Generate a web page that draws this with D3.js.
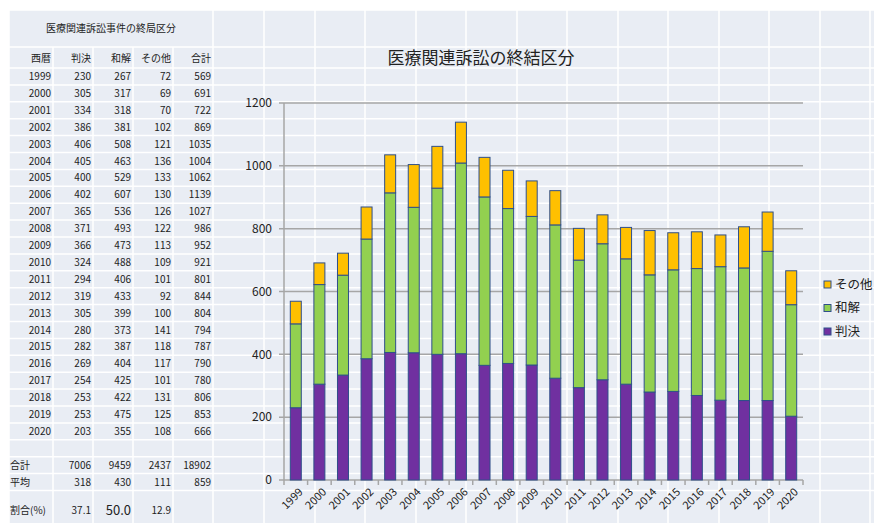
<!DOCTYPE html>
<html>
<head>
<meta charset="utf-8">
<script src="https://cdn.jsdelivr.net/npm/d3@7"></script>
<style>
  body { margin: 0; background: #fff; }
  text { font-family: "Noto Sans CJK JP", "Noto Sans", sans-serif; }
</style>
</head>
<body>
<div id="sheet"></div>
<script>
// data read from the sheet
const years = ["1999","2000","2001","2002","2003","2004","2005","2006","2007","2008","2009",
               "2010","2011","2012","2013","2014","2015","2016","2017","2018","2019","2020"];
const hanketsu = [230,305,334,386,406,405,400,402,365,371,366,324,294,319,305,280,282,269,254,253,253,203];
const wakai    = [267,317,318,381,508,463,529,607,536,493,473,488,406,433,399,373,387,404,425,422,475,355];
const sonota   = [72,69,70,102,121,136,133,130,126,122,113,109,101,92,100,141,118,117,101,131,125,108];
const seriesNames = ["判決", "和解", "その他"];
const headers = ["西暦", "判決", "和解", "その他", "合計"];
const totalRow = ["合計", "7006", "9459", "2437", "18902"];
const avgRow = ["平均", "318", "430", "111", "859"];
const ratioRow = ["割合(%)", "37.1", "50.0", "12.9", ""];
const yTicks = [0, 200, 400, 600, 800, 1000, 1200];

const W = 874, H = 523;
const colors = { "判決": "#7030a0", "和解": "#92d050", "その他": "#ffc000" };

let svg = d3.select("#sheet").append("svg")
    .attr("width", W).attr("height", H);

// spreadsheet background
svg.append("rect").attr("x", 9).attr("y", 10).attr("width", W - 9).attr("height", H - 10)
    .attr("fill", "#e9edf4");

const colX = [9, 53, 93, 133, 173, 213, 264, 315, 365, 416, 466, 517, 567, 618, 668, 719, 769, 820, 870];
const rowY = [10, 47, 68];
for (let i = 1; i <= 25; i++) rowY.push(68 + i * 16.9);

// horizontal cell borders
svg.append("g").selectAll("line").data(rowY).enter().append("line")
    .attr("x1", 9).attr("x2", W).attr("y1", d => d).attr("y2", d => d)
    .attr("stroke", "#fff").attr("stroke-width", 1.5);
// vertical cell borders (title cell is merged over first five columns)
svg.append("g").selectAll("line").data(colX).enter().append("line")
    .attr("x1", d => d).attr("x2", d => d)
    .attr("y1", d => d < 213 && d > 9 ? 47 : 10).attr("y2", H)
    .attr("stroke", "#fff").attr("stroke-width", 1.5);

// ---- table ----
let table = svg.append("g").attr("fill", "#222").style("font-size", "10px");
table.append("text").attr("x", 111).attr("y", 32).attr("text-anchor", "middle")
    .text("医療関連訴訟事件の終局区分");

const rightEdge = [51, 91, 131, 171, 211];
function writeRow(vals, cy, firstLeft) {
    vals.forEach(function(v, i) {
        table.append("text")
            .attr("x", (i === 0 && firstLeft) ? 10 : rightEdge[i])
            .attr("y", cy).attr("dy", "0.35em")
            .attr("text-anchor", (i === 0 && firstLeft) ? "start" : "end")
            .text(v);
    });
}
writeRow(headers, 58, false);
years.forEach(function(y, i) {
    let tot = hanketsu[i] + wakai[i] + sonota[i];
    writeRow([y, hanketsu[i], wakai[i], sonota[i], tot], 68 + i * 16.9 + 8.5, false);
});
writeRow(totalRow, 465, true);
writeRow(avgRow, 482, true);
writeRow(ratioRow, 510, true);
// the middle ratio is printed larger in the sheet
table.selectAll("text").filter(function() { return d3.select(this).text() === "50.0"; })
    .style("font-size", "13px");

// ---- chart ----
const x = d3.scaleBand().domain(years).range([284, 803]).paddingInner(0.534).paddingOuter(0.267);
const y = d3.scaleLinear().domain([0, 1200]).range([480, 103]);

let data = years.map((yr, i) => ({ year: yr, "判決": hanketsu[i], "和解": wakai[i], "その他": sonota[i] }));
let stacked = d3.stack().keys(seriesNames)(data);

// gridlines
svg.append("g").selectAll("line").data(yTicks).enter().append("line")
    .attr("x1", 279).attr("x2", 803).attr("y1", d => y(d)).attr("y2", d => y(d))
    .attr("stroke", "#a6a6a6").attr("stroke-width", 1.5);
svg.append("line").attr("x1", 284).attr("x2", 284).attr("y1", y(1200)).attr("y2", y(0))
    .attr("stroke", "#a6a6a6").attr("stroke-width", 1.5);

// y labels
svg.append("g").selectAll("text").data(yTicks).enter().append("text")
    .attr("x", 272).attr("y", d => y(d)).attr("dy", "0.35em")
    .attr("text-anchor", "end").style("font-size", "12px").attr("fill", "#222")
    .text(d => d);

// x ticks at category boundaries
const step = x.step();
let bounds = years.map(yr => x(yr) - step * x.paddingInner() / 2);
bounds.push(803);
svg.append("g").selectAll("line").data(bounds).enter().append("line")
    .attr("x1", d => d).attr("x2", d => d).attr("y1", y(0)).attr("y2", y(0) + 5)
    .attr("stroke", "#a6a6a6").attr("stroke-width", 1.5);

// bars
svg.append("g").selectAll("g").data(stacked).enter().append("g")
    .attr("fill", d => colors[d.key])
    .selectAll("rect").data(d => d).enter().append("rect")
    .attr("x", d => x(d.data.year))
    .attr("y", d => y(d[1]))
    .attr("width", x.bandwidth())
    .attr("height", d => y(d[0]) - y(d[1]))
    .attr("stroke", "#2f4f8a").attr("stroke-width", 1);

// x labels
svg.append("g").selectAll("text").data(years).enter().append("text")
    .attr("transform", d => "translate(" + (x(d) + x.bandwidth() / 2 + 5) + "," + 490 + ") rotate(-45)")
    .attr("text-anchor", "end").attr("dy", "0.35em")
    .style("font-size", "11px").attr("fill", "#222")
    .text(d => d);

// title
svg.append("text").attr("x", 481).attr("y", 58).attr("dy", "0.35em")
    .attr("text-anchor", "middle").style("font-size", "17px").attr("fill", "#222")
    .text("医療関連訴訟の終結区分");

// legend (top to bottom: その他, 和解, 判決)
const legendKeys = seriesNames.slice().reverse();
let legend = svg.append("g").selectAll("g").data(legendKeys).enter().append("g")
    .attr("transform", (d, i) => "translate(824," + (284.5 + i * 23.5) + ")");
legend.append("rect").attr("x", 0).attr("y", -3.5).attr("width", 7).attr("height", 7)
    .attr("fill", d => colors[d]).attr("stroke", "#2f4f8a").attr("stroke-width", 1);
legend.append("text").attr("x", 11).attr("dy", "0.35em")
    .style("font-size", "12.5px").attr("fill", "#222").text(d => d);
</script>
</body>
</html>
